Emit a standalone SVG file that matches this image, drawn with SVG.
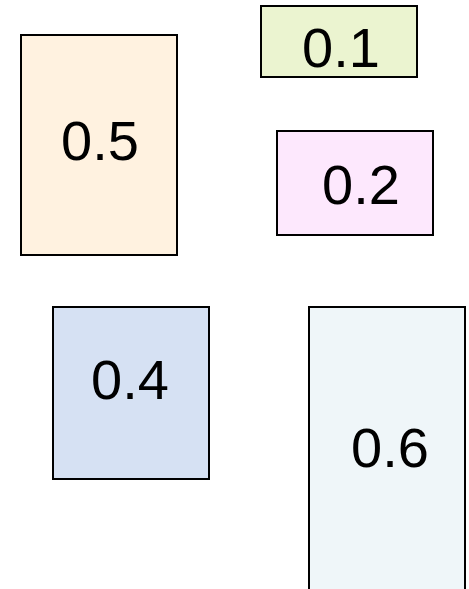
<svg xmlns="http://www.w3.org/2000/svg" width="469" height="589" viewBox="0 0 469 589">
  <style>
    .box { stroke: #000; stroke-width: 2; }
    .lbl { font-family: "Liberation Sans", Arial, sans-serif; font-size: 56px; fill: #000; text-anchor: middle; }
  </style>
  <rect width="469" height="589" fill="#fff"/>
  <g id="node-05">
    <rect class="box" x="21" y="35" width="156" height="220" fill="#fff2e0"/>
    <text class="lbl" x="100" y="160">0.5</text>
  </g>
  <g id="node-01">
    <rect class="box" x="261" y="6" width="156" height="71" fill="#ebf4d0"/>
    <text class="lbl" x="341" y="67">0.1</text>
  </g>
  <g id="node-02">
    <rect class="box" x="277" y="131" width="156" height="104" fill="#fde8fd"/>
    <text class="lbl" x="361" y="204">0.2</text>
  </g>
  <g id="node-04">
    <rect class="box" x="53" y="307" width="156" height="172" fill="#d6e1f3"/>
    <text class="lbl" x="130" y="399">0.4</text>
  </g>
  <g id="node-06">
    <rect class="box" x="309" y="307" width="156" height="292" fill="#eff6f9"/>
    <text class="lbl" x="390" y="467">0.6</text>
  </g>
  <g id="connectors"/>
</svg>
